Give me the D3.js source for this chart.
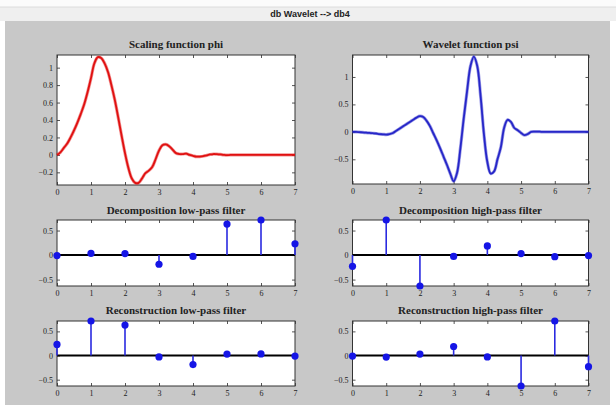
<!DOCTYPE html>
<html>
<head>
<meta charset="utf-8">
<script src="https://cdn.jsdelivr.net/npm/d3@7"></script>
<style>
  body { margin: 0; background: #fff; }
  .tick text { font-family: "Liberation Serif", serif; font-size: 8px; fill: #222; }
  .ptitle { font-family: "Liberation Serif", serif; font-size: 11px; font-weight: bold; fill: #222; }
</style>
</head>
<body>
<svg id="fig" width="616" height="405"></svg>
<script>
// sample grid for the wavelet functions
const xs = d3.range(0, 71).map(i => i / 10);

// scaling function phi
const phi = [0.00, 0.03, 0.08, 0.13, 0.20, 0.28, 0.37, 0.47, 0.58, 0.72,
  0.88, 1.05, 1.12, 1.11, 1.05, 0.95, 0.80, 0.63, 0.43, 0.22,
  0.02, -0.15, -0.27, -0.32, -0.32, -0.27, -0.21, -0.18, -0.14, -0.05,
  0.05, 0.11, 0.12, 0.10, 0.06, 0.02, 0.01, 0.01, 0.015, 0.00,
  -0.01, -0.02, -0.02, -0.015, -0.005, 0.005, 0.01, 0.008, 0.005, 0.0,
  -0.003, 0, 0, 0, 0, 0, 0, 0, 0, 0,
  0, 0, 0, 0, 0, 0, 0, 0, 0, 0, 0];

// wavelet function psi
const psi = [0.00, 0.00, -0.005, -0.01, -0.015, -0.02, -0.025, -0.03, -0.04, -0.045,
  -0.05, -0.04, -0.02, 0.02, 0.06, 0.10, 0.14, 0.18, 0.22, 0.26,
  0.285, 0.27, 0.20, 0.10, -0.03, -0.16, -0.30, -0.45, -0.60, -0.76,
  -0.90, -0.75, -0.30, 0.25, 0.75, 1.20, 1.37, 1.20, 0.65, -0.05,
  -0.55, -0.76, -0.72, -0.50, -0.28, 0.08, 0.22, 0.18, 0.07, 0.03,
  -0.02, -0.06, -0.04, 0.0, 0.005, 0.005, 0, 0, 0, 0,
  0, 0, 0, 0, 0, 0, 0, 0, 0, 0, 0];

// filter taps
const taps = [0, 1, 2, 3, 4, 5, 6, 7];
const loD = [-0.0106, 0.0329, 0.0308, -0.1870, -0.0280, 0.6309, 0.7148, 0.2304];
const hiD = [-0.2304, 0.7148, -0.6309, -0.0280, 0.1870, 0.0308, -0.0329, -0.0106];
const loR = [0.2304, 0.7148, 0.6309, -0.0280, -0.1870, 0.0308, 0.0329, -0.0106];
const hiR = [-0.0106, -0.0329, 0.0308, 0.1870, -0.0280, -0.6309, 0.7148, -0.2304];

const xTicks = [0, 1, 2, 3, 4, 5, 6, 7];
const phiTicks = [-0.2, 0, 0.2, 0.4, 0.6, 0.8, 1];
const psiTicks = [-0.5, 0, 0.5, 1];
const filtTicks = [-0.5, 0, 0.5];

const svg = d3.select('#fig');

// figure background
svg.append('rect').attr('x', 0).attr('y', 0).attr('width', 616).attr('height', 7).attr('fill', '#fbfbfb');
svg.append('rect').attr('x', 0).attr('y', 7).attr('width', 616).attr('height', 14).attr('fill', '#efefef');
svg.append('line').attr('x1', 0).attr('x2', 616).attr('y1', 7).attr('y2', 7).attr('stroke', '#dcdcdc');
svg.append('rect').attr('x', 5).attr('y', 21).attr('width', 605).attr('height', 384).attr('fill', '#c8c8c8');
svg.append('text').attr('x', 310).attr('y', 17).attr('text-anchor', 'middle')
  .style('font-family', 'Liberation Sans, sans-serif').style('font-size', '9px').style('font-weight', 'bold')
  .attr('fill', '#222').text('db Wavelet --> db4');

const fmt = d => d3.format('~g')(d);

function makeAxes(box, yDomain, yTicks, title, titleY, labelGap) {
  const x = d3.scaleLinear().domain([0, 7]).range([box.x0, box.x1]);
  const y = d3.scaleLinear().domain(yDomain).range([box.y1, box.y0]);
  const g = svg.append('g');

  g.append('rect').attr('x', box.x0).attr('y', box.y0)
    .attr('width', box.x1 - box.x0).attr('height', box.y1 - box.y0).attr('fill', '#fff');

  // ticks inside the box on all sides
  g.append('g').attr('transform', 'translate(0,' + box.y1 + ')')
    .call(d3.axisBottom(x).tickValues(xTicks).tickSize(-3).tickPadding(labelGap).tickFormat(fmt))
    .call(a => a.select('.domain').remove());
  g.append('g').attr('transform', 'translate(0,' + box.y0 + ')')
    .call(d3.axisTop(x).tickValues(xTicks).tickSize(-3).tickFormat(''))
    .call(a => a.select('.domain').remove());
  g.append('g').attr('transform', 'translate(' + box.x0 + ',0)')
    .call(d3.axisLeft(y).tickValues(yTicks).tickSize(-3).tickPadding(4).tickFormat(fmt))
    .call(a => a.select('.domain').remove());
  g.append('g').attr('transform', 'translate(' + box.x1 + ',0)')
    .call(d3.axisRight(y).tickValues(yTicks).tickSize(-3).tickFormat(''))
    .call(a => a.select('.domain').remove());
  g.selectAll('.tick line').attr('stroke', '#555');

  g.append('rect').attr('x', box.x0).attr('y', box.y0)
    .attr('width', box.x1 - box.x0).attr('height', box.y1 - box.y0)
    .attr('fill', 'none').attr('stroke', '#333').attr('stroke-width', 1);

  g.append('text').attr('class', 'ptitle')
    .attr('x', (box.x0 + box.x1) / 2).attr('y', titleY)
    .attr('text-anchor', 'middle').text(title);

  return { x, y, g };
}

function drawCurve(ax, vals, color) {
  const line = d3.line().x((d, i) => ax.x(xs[i])).y(d => ax.y(d)).curve(d3.curveCatmullRom);
  ax.g.append('path').datum(vals).attr('d', line)
    .attr('fill', 'none').attr('stroke', color).attr('stroke-width', 3.2).attr('opacity', 0.45);
  ax.g.append('path').datum(vals).attr('d', line)
    .attr('fill', 'none').attr('stroke', color).attr('stroke-width', 1.8);
}

function drawStems(ax, vals) {
  ax.g.append('line').attr('x1', ax.x(0)).attr('x2', ax.x(7))
    .attr('y1', ax.y(0)).attr('y2', ax.y(0)).attr('stroke', '#000').attr('stroke-width', 2);
  ax.g.selectAll('.stem').data(vals).enter().append('line')
    .attr('class', 'stem')
    .attr('x1', (d, i) => ax.x(taps[i])).attr('x2', (d, i) => ax.x(taps[i]))
    .attr('y1', ax.y(0)).attr('y2', d => ax.y(d))
    .attr('stroke', '#2a2ae0').attr('stroke-width', 1.6);
  ax.g.selectAll('.mark').data(vals).enter().append('circle')
    .attr('class', 'mark')
    .attr('cx', (d, i) => ax.x(taps[i])).attr('cy', d => ax.y(d))
    .attr('r', 3.6).attr('fill', '#1515e6');
}

const colL = { x0: 57, x1: 295 };
const colR = { x0: 352.5, x1: 588.5 };
const filtDomain = [-0.6309, 0.7148];

const axPhi = makeAxes({ ...colL, y0: 55, y1: 185 }, [-0.345, 1.145], phiTicks, 'Scaling function phi', 48, 4);
drawCurve(axPhi, phi, '#e01010');
const axPsi = makeAxes({ ...colR, y0: 55, y1: 184 }, [-0.95, 1.4], psiTicks, 'Wavelet function psi', 48, 4);
drawCurve(axPsi, psi, '#2626c8');

const axLoD = makeAxes({ ...colL, y0: 220, y1: 286 }, filtDomain, filtTicks, 'Decomposition low-pass filter', 214, 4);
drawStems(axLoD, loD);
const axHiD = makeAxes({ ...colR, y0: 220, y1: 286 }, filtDomain, filtTicks, 'Decomposition high-pass filter', 214, 4);
drawStems(axHiD, hiD);

const axLoR = makeAxes({ ...colL, y0: 321, y1: 386 }, filtDomain, filtTicks, 'Reconstruction low-pass filter', 314, 4);
drawStems(axLoR, loR);
const axHiR = makeAxes({ ...colR, y0: 321, y1: 386 }, filtDomain, filtTicks, 'Reconstruction high-pass filter', 314, 4);
drawStems(axHiR, hiR);
</script>
</body>
</html>
